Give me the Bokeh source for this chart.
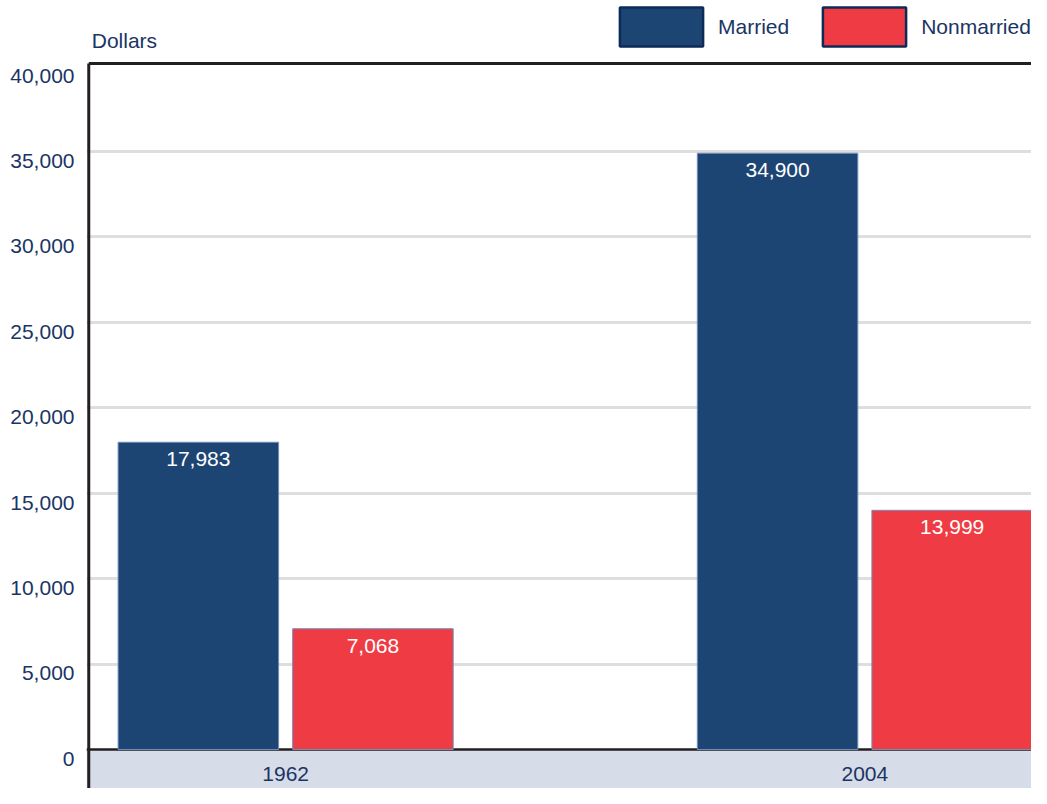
from bokeh.plotting import figure
from bokeh.models import (Range1d, FixedTicker, Span, BoxAnnotation,
                          Legend, LegendItem, Label, ColumnDataSource)
from bokeh.transform import dodge
from bokeh.core.properties import value
from bokeh.embed import file_html
from bokeh.resources import INLINE

# ---------------- data ----------------
years = ["1962", "2004"]
series = ["Married", "Nonmarried"]
married = [17983, 34900]
nonmarried = [7068, 13999]
y_ticks = [0, 5000, 10000, 15000, 20000, 25000, 30000, 35000, 40000]
y_tick_labels = ["0", "5,000", "10,000", "15,000", "20,000", "25,000", "30,000", "35,000", "40,000"]
unit_label = "Dollars"

# ---------------- style ----------------
FONT = "Liberation Sans"
TEXT_C = "#1a3563"
MARRIED_C = "#1d4574"
NONMARRIED_C = "#ef3b43"
BAR_EDGE = "#6f8fb8"
LEG_EDGE = "#0e2b58"
AXIS_C = "#231f20"
GRID_C = "#dedede"
BAND_C = "#d6dce8"
FS = "21px"

# plot box limits (data units)
TOP_VAL = 40150
LEFT_VAL = -0.3399

src = ColumnDataSource(dict(
    x=list(range(len(years))),
    years=years,
    married=married,
    nonmarried=nonmarried,
    m_lbl=[f"{v:,}" for v in married],
    n_lbl=[f"{v:,}" for v in nonmarried],
))

p = figure(width=1031, height=788, output_backend="svg", toolbar_location=None,
           x_range=Range1d(-0.3438, 1.2877), y_range=Range1d(-2283, 43840),
           x_axis_type=None,
           min_border_left=86, min_border_right=0, min_border_top=0, min_border_bottom=0)
p.title.visible = False
p.outline_line_color = None
p.background_fill_color = "white"
p.border_fill_color = "white"

# band below zero and zero line
p.add_layout(BoxAnnotation(top=0, fill_color=BAND_C, fill_alpha=1, line_color=None, level="underlay"))
p.add_layout(Span(location=0, dimension="width", line_color=AXIS_C, line_width=2.5, level="underlay"))

# plot-box border: left and top lines
p.add_layout(BoxAnnotation(left=LEFT_VAL, right=LEFT_VAL, top=TOP_VAL, fill_alpha=0,
                           line_color=AXIS_C, line_alpha=1, line_width=3))
p.add_layout(BoxAnnotation(left=LEFT_VAL, top=TOP_VAL, bottom=TOP_VAL, fill_alpha=0,
                           line_color=AXIS_C, line_alpha=1, line_width=3))

OFF = 0.1507
W = 0.2771
p.vbar(x=dodge("x", -OFF), top="married", width=W, source=src,
       fill_color=MARRIED_C, line_color=BAR_EDGE, line_width=1)
p.vbar(x=dodge("x", OFF), top="nonmarried", width=W, source=src,
       fill_color=NONMARRIED_C, line_color=BAR_EDGE, line_width=1)

p.text(x=dodge("x", -OFF), y="married", text="m_lbl", source=src,
       text_align="center", text_baseline="middle", y_offset=17,
       text_color="white", text_font=value(FONT), text_font_size=FS)
p.text(x=dodge("x", OFF), y="nonmarried", text="n_lbl", source=src,
       text_align="center", text_baseline="middle", y_offset=17,
       text_color="white", text_font=value(FONT), text_font_size=FS)
p.text(x="x", y=0, text="years", source=src,
       text_align="center", text_baseline="middle", y_offset=25,
       text_color=TEXT_C, text_font=value(FONT), text_font_size=FS)

# y axis: labels sit a little below their grid lines
LBL_OFF = 550
yax = p.yaxis[0]
yax.ticker = FixedTicker(ticks=[t - LBL_OFF for t in y_ticks])
yax.major_label_overrides = {t - LBL_OFF: l for t, l in zip(y_ticks, y_tick_labels)}
yax.axis_line_color = None
yax.major_tick_line_color = None
yax.minor_tick_line_color = None
yax.major_tick_in = 0
yax.major_tick_out = 0
yax.major_label_standoff = 12
yax.major_label_text_font = FONT
yax.major_label_text_font_size = FS
yax.major_label_text_color = TEXT_C

p.ygrid.ticker = FixedTicker(ticks=y_ticks[1:-1])
p.ygrid.grid_line_color = GRID_C
p.ygrid.grid_line_width = 3

p.add_layout(Label(x=LEFT_VAL, x_offset=3, y=748, y_units="screen", text=unit_label,
                   text_baseline="alphabetic", text_font=FONT, text_font_size=FS,
                   text_color=TEXT_C))

# legend swatches (placeholder renderers that draw nothing in the plot)
nan = float("nan")
r_m = p.vbar(x=[nan], top=[nan], width=0.1, fill_color=MARRIED_C, line_color=LEG_EDGE, line_width=2.5)
r_n = p.vbar(x=[nan], top=[nan], width=0.1, fill_color=NONMARRIED_C, line_color=LEG_EDGE, line_width=2.5)
legend = Legend(items=[LegendItem(label=series[0], renderers=[r_m]),
                       LegendItem(label=series[1], renderers=[r_n])],
                orientation="horizontal", location=(523, 737),
                glyph_width=104, glyph_height=49,
                label_standoff=5, spacing=23,
                padding=0, margin=0, border_line_color=None, background_fill_alpha=0,
                label_text_font=FONT, label_text_font_size=FS, label_text_color=TEXT_C,
                label_text_baseline="hanging")
p.add_layout(legend)

open("out.html", "w").write(file_html(p, INLINE))
